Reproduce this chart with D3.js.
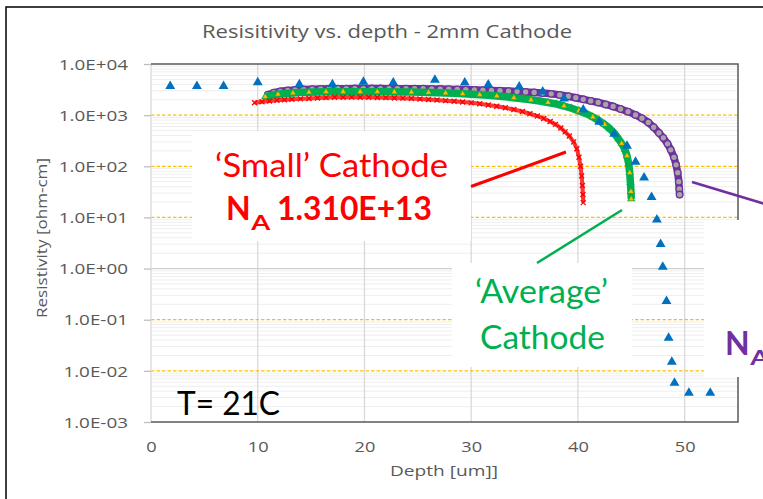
<!DOCTYPE html>
<html><head><meta charset="utf-8">
<script src="https://cdn.jsdelivr.net/npm/d3@7"></script>
<style>body{margin:0;background:#fff}svg{display:block}</style>
</head><body><svg id="c" width="763" height="499"></svg>
<script>
// ---------- data ----------
const depthTicks = [0, 10, 20, 30, 40, 50];
const resTicks = [1e-3, 1e-2, 1e-1, 1e0, 1e1, 1e2, 1e3, 1e4];
const resTickLabels = ["1.0E-03","1.0E-02","1.0E-01","1.0E+00","1.0E+01","1.0E+02","1.0E+03","1.0E+04"];

// measured (blue triangles)
const measuredDepth = [1.8,4.3,6.8,10.0,13.9,17.0,19.9,22.7,26.6,29.4,31.6,34.5,36.7,38.7,40.5,42.0,43.4,44.6,45.4,46.2,46.9,47.4,47.75,47.95,48.3,48.5,48.8,49.05,50.4,52.4];
const measuredRes   = [3700,3700,3700,4350,4000,4000,4450,4300,4900,4300,3950,3600,2870,2100,1280,740,430,250,122,60,25,9.0,3.0,1.08,0.23,0.044,0.015,0.0058,0.0037,0.0037];

// 'Small' cathode model (red x)
const smallDepth = [9.7,10.4,11.1,11.8,12.5,13.2,14.0,14.8,15.6,16.4,17.2,18.0,18.8,19.6,20.4,21.2,22.0,22.8,23.6,24.4,25.2,26.0,26.8,27.6,28.4,29.2,30.0,30.8,31.6,32.4,33.2,34.0,34.8,35.5,36.2,36.8,37.4,37.9,38.4,38.8,39.2,39.6,39.9,40.1,40.25,40.35,40.42,40.47,40.5];
const smallRes   = [1750,1830,1890,1950,2000,2040,2080,2120,2160,2200,2230,2240,2250,2240,2230,2210,2200,2170,2150,2110,2070,2020,1970,1920,1870,1810,1740,1670,1580,1490,1390,1290,1180,1065,960,860,750,660,560,470,390,300,220,150,100,65,42,28,19.5];

// 'Average' cathode model (green / yellow triangles)
const avgDepth = [10.7,11.3,11.9,12.6,13.3,14.0,14.8,15.6,16.4,17.2,18.0,18.8,19.6,20.4,21.2,22.0,22.8,23.6,24.4,25.2,26.0,26.8,27.6,28.4,29.2,30.0,30.8,31.6,32.4,33.2,34.0,34.8,35.6,36.4,37.2,38.0,38.7,39.4,40.1,40.8,41.4,42.0,42.5,43.0,43.4,43.8,44.1,44.4,44.6,44.75,44.85,44.92,44.97,45.0];
const avgRes   = [2290,2430,2560,2650,2720,2770,2810,2840,2860,2870,2880,2880,2880,2880,2870,2860,2850,2840,2820,2810,2780,2750,2710,2670,2620,2570,2510,2440,2360,2280,2190,2090,1990,1890,1770,1640,1510,1365,1210,1065,920,777,660,542,445,345,280,215,160,115,75,48,32,23];

// large cathode model (purple circles)
const largeDepth = [10.95,11.5,12.1,12.8,13.5,14.3,15.1,15.9,16.7,17.5,18.3,19.1,19.9,20.7,21.5,22.3,23.1,23.9,24.7,25.5,26.3,27.1,27.9,28.7,29.5,30.3,31.1,31.9,32.7,33.5,34.3,35.1,35.9,36.7,37.5,38.3,39.1,39.8,40.5,41.2,41.9,42.6,43.3,44.0,44.7,45.4,46.0,46.6,47.1,47.6,48.0,48.4,48.7,49.0,49.2,49.35,49.45,49.5,49.53];
const largeRes   = [2510,2750,2920,3030,3110,3180,3220,3250,3280,3290,3300,3310,3310,3310,3310,3300,3300,3290,3290,3280,3260,3240,3210,3180,3150,3120,3080,3040,3000,2950,2900,2840,2770,2700,2610,2490,2340,2190,2040,1900,1770,1620,1480,1320,1170,1010,870,720,580,450,360,275,210,150,107,75,50,36,28];

// ---------- setup ----------
const svg = d3.select("#c");
const x = d3.scaleLinear().domain([0, 55]).range([151, 738]);
const y = d3.scaleLog().domain([1e-3, 1e4]).range([422, 64]);
const zip = (a, b) => a.map((d, i) => [d, b[i]]);
const measured = zip(measuredDepth, measuredRes);
const small = zip(smallDepth, smallRes);
const avg = zip(avgDepth, avgRes);
const large = zip(largeDepth, largeRes);

function stretch(sel, k) {
  sel.each(function () {
    const w = this.getComputedTextLength();
    d3.select(this).attr("textLength", w * k).attr("lengthAdjust", "spacingAndGlyphs");
  });
}
function fit(sel, w) { return sel.attr("textLength", w).attr("lengthAdjust", "spacingAndGlyphs"); }

svg.append("rect").attr("width", 763).attr("height", 499).attr("fill", "#fff");
// outer frame
svg.append("rect").attr("x", 6).attr("y", 7).attr("width", 800).attr("height", 600)
  .attr("fill", "none").attr("stroke", "#000").attr("stroke-width", 1.5);

// title
const title = svg.append("text").attr("x", 387).attr("y", 37.5).attr("text-anchor", "middle")
  .attr("font-family", "Open Sans").attr("font-size", 18).attr("fill", "#595959")
  .text("Resisitivity vs. depth - 2mm Cathode");
fit(title, 370);

// minor gridlines
const minor = [];
for (let d = -3; d < 4; d++) for (let m = 2; m <= 9; m++) minor.push(m * Math.pow(10, d));
svg.append("g").selectAll("line").data(minor).join("line")
  .attr("x1", x(0)).attr("x2", x(55)).attr("y1", d => y(d)).attr("y2", d => y(d))
  .attr("stroke", "#eeeeee").attr("stroke-width", 1);

// vertical gridlines
svg.append("g").selectAll("line").data(depthTicks.slice(1)).join("line")
  .attr("x1", d => x(d)).attr("x2", d => x(d)).attr("y1", y(1e4)).attr("y2", y(1e-3))
  .attr("stroke", "#d9d9d9").attr("stroke-width", 1.3);

// major horizontal gridlines
const majors = resTicks.slice(1, -1);
svg.append("g").selectAll("line").data(majors).join("line")
  .attr("x1", x(0)).attr("x2", x(55)).attr("y1", d => y(d)).attr("y2", d => y(d))
  .attr("stroke", d => d === 1 ? "#d0d0d0" : "#FFC000")
  .attr("stroke-width", 1.3)
  .attr("stroke-dasharray", d => d === 1 ? null : "3.5,2");

// left axis line (light)
svg.append("line").attr("x1", x(0)).attr("x2", x(0)).attr("y1", y(1e4)).attr("y2", y(1e-3))
  .attr("stroke", "#d9d9d9").attr("stroke-width", 1.3);
// plot border top/right/bottom
svg.append("path")
  .attr("d", `M${x(0)},${y(1e4)}H${x(55)}V${y(1e-3)}H${x(0)}`)
  .attr("fill", "none").attr("stroke", "#595959").attr("stroke-width", 1.5);

// y axis ticks + labels
const yAxis = svg.append("g").attr("transform", `translate(${x(0)},0)`)
  .call(d3.axisLeft(y).tickValues(resTicks).tickFormat((d, i) => resTickLabels[i]).tickSize(7).tickPadding(16));
yAxis.select(".domain").remove();
yAxis.selectAll(".tick line").attr("stroke", "#bfbfbf").attr("stroke-width", 1.3);
yAxis.selectAll(".tick text").attr("font-family", "Open Sans").attr("font-size", 14.5)
  .attr("fill", "#595959").attr("dy", "0.36em");
stretch(yAxis.selectAll(".tick text"), 1.3);

// x axis labels
const xAxis = svg.append("g").attr("transform", `translate(0,${y(1e-3)})`)
  .call(d3.axisBottom(x).tickValues(depthTicks).tickSize(0).tickPadding(20));
xAxis.select(".domain").remove();
xAxis.selectAll(".tick text").attr("font-family", "Open Sans").attr("font-size", 14).attr("fill", "#595959");
stretch(xAxis.selectAll(".tick text"), 1.3);

// axis titles
const xt = svg.append("text").attr("x", 444).attr("y", 476).attr("text-anchor", "middle")
  .attr("font-family", "Open Sans").attr("font-size", 14).attr("fill", "#595959").text("Depth [um]]");
fit(xt, 108);
const yt = svg.append("text").attr("transform", "translate(47,238) rotate(-90)").attr("text-anchor", "middle")
  .attr("font-family", "Open Sans").attr("font-size", 14.5).attr("fill", "#595959").text("Resistivity [ohm-cm]");
fit(yt, 160);

// white annotation boxes
[[192, 131, 279, 110], [452, 263, 180, 104], [704, 220, 70, 157]].forEach(b => {
  svg.append("rect").attr("x", b[0]).attr("y", b[1]).attr("width", b[2]).attr("height", b[3]).attr("fill", "#fff");
});

// ---------- series ----------
const line = d3.line().x(d => x(d[0])).y(d => y(d[1]));

// purple (large cathode)
svg.append("path").datum(large).attr("d", line).attr("fill", "none")
  .attr("stroke", "#7030A0").attr("stroke-width", 7.5).attr("stroke-linejoin", "round").attr("stroke-linecap", "round");
svg.append("g").selectAll("circle").data(large).join("circle")
  .attr("cx", d => x(d[0])).attr("cy", d => y(d[1])).attr("r", 3.3)
  .attr("fill", "#A5A5A5").attr("stroke", "#7030A0").attr("stroke-width", 1.3);

// green (average cathode)
svg.append("path").datum(avg).attr("d", line).attr("fill", "none")
  .attr("stroke", "#00B050").attr("stroke-width", 7.5).attr("stroke-linejoin", "round");
svg.append("g").selectAll("path").data(avg).join("path")
  .attr("transform", d => `translate(${x(d[0])},${y(d[1])})`)
  .attr("d", d3.symbol(d3.symbolTriangle, 30))
  .attr("fill", "#00B050");
svg.append("g").selectAll("path").data(avg.filter((d, i) => i % 2 === 0 || i === avg.length - 1)).join("path")
  .attr("transform", d => `translate(${x(d[0])},${y(d[1])})`)
  .attr("d", d3.symbol(d3.symbolTriangle, 12))
  .attr("fill", "#FFC000").attr("stroke", "#B08A00").attr("stroke-width", 0.3);

// red (small cathode)
svg.append("path").datum(small).attr("d", line).attr("fill", "none")
  .attr("stroke", "#FF2020").attr("stroke-width", 4).attr("stroke-linejoin", "round").attr("opacity", 0.9);
svg.append("g").selectAll("path").data(small).join("path")
  .attr("transform", d => `translate(${x(d[0])},${y(d[1])})`)
  .attr("d", "M-2.5,-2.5L2.5,2.5M-2.5,2.5L2.5,-2.5")
  .attr("stroke", "#FF0000").attr("stroke-width", 1.3).attr("fill", "none");

// measured (blue triangles)
svg.append("g").selectAll("path").data(measured).join("path")
  .attr("transform", d => `translate(${x(d[0])},${y(d[1])})`)
  .attr("d", d3.symbol(d3.symbolTriangle, 42))
  .attr("fill", "#0070C0");

// ---------- annotations ----------
svg.append("line").attr("x1", 471).attr("y1", 186.5).attr("x2", 566).attr("y2", 152)
  .attr("stroke", "#FF0000").attr("stroke-width", 3);
svg.append("line").attr("x1", 537).attr("y1", 263).attr("x2", 622).attr("y2", 210)
  .attr("stroke", "#00B050").attr("stroke-width", 2.5);
svg.append("line").attr("x1", 692).attr("y1", 182).attr("x2", 775).attr("y2", 207)
  .attr("stroke", "#7030A0").attr("stroke-width", 2.5);

const F = "Lato, 'Open Sans', sans-serif";
fit(svg.append("text").attr("x", 215).attr("y", 176.5).attr("font-family", F).attr("font-size", 33.5)
  .attr("fill", "#FF0000").text("\u2018Small\u2019 Cathode"), 233);

function nA(x0, yb, color) {
  const n = svg.append("text").attr("x", x0).attr("y", yb).attr("font-family", F).attr("font-size", 32)
    .attr("font-weight", "bold").attr("fill", color).text("N");
  const w = n.node().getComputedTextLength();
  svg.append("text").attr("x", x0 + w + 0.5).attr("y", yb + 10).attr("font-family", F).attr("font-size", 20)
    .attr("font-weight", "bold").attr("fill", color).attr("textLength", 19).attr("lengthAdjust", "spacingAndGlyphs").text("A");
}
nA(226, 220, "#FF0000");
fit(svg.append("text").attr("x", 277).attr("y", 220).attr("font-family", F).attr("font-size", 32.5)
  .attr("font-weight", "bold").attr("fill", "#FF0000").text("1.310E+13"), 155);

fit(svg.append("text").attr("x", 475).attr("y", 303).attr("font-family", F).attr("font-size", 33.5)
  .attr("fill", "#00B050").text("\u2018Average\u2019"), 133);
fit(svg.append("text").attr("x", 480).attr("y", 349).attr("font-family", F).attr("font-size", 33.5)
  .attr("fill", "#00B050").text("Cathode"), 125);

fit(svg.append("text").attr("x", 177).attr("y", 415).attr("font-family", F).attr("font-size", 32.5)
  .attr("fill", "#000").text("T= 21C"), 103);

nA(725, 355, "#7030A0");
</script></body></html>
